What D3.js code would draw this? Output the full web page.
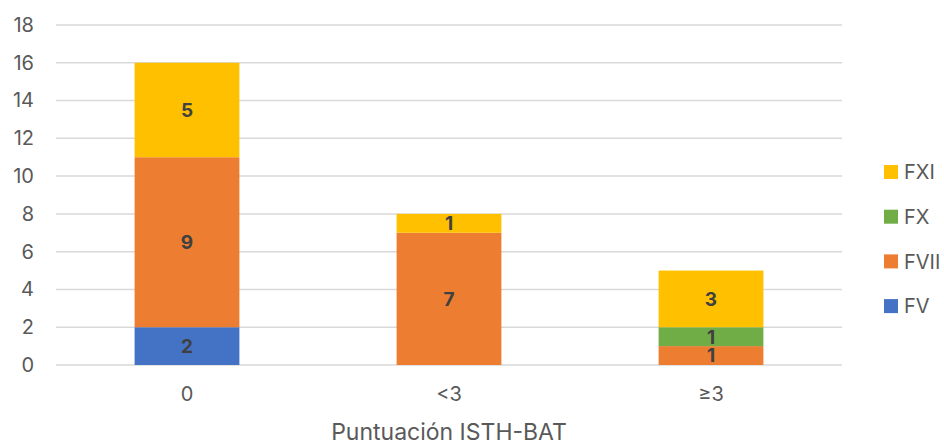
<!DOCTYPE html>
<html>
<head>
<meta charset="utf-8">
<script src="https://cdn.jsdelivr.net/npm/d3@7"></script>
<style>
  html, body { margin: 0; padding: 0; background: #fff; }
  svg { display: block; font-family: Inter, "Noto Sans", sans-serif; }
</style>
</head>
<body>
<svg id="chart" width="944" height="445"></svg>
<script>
// Categories (ISTH-BAT score groups)
const categories = ["0", "<3", "\u22653"];
// Series in stacking order (bottom to top)
const seriesNames = ["FV", "FVII", "FX", "FXI"];
const FV   = [2, 0, 0];
const FVII = [9, 7, 1];
const FX   = [0, 0, 1];
const FXI  = [5, 1, 3];
const yTicks = [0, 2, 4, 6, 8, 10, 12, 14, 16, 18];
const colors = { FV: "#4472C4", FVII: "#ED7D31", FX: "#70AD47", FXI: "#FFC000" };
const xTitle = "Puntuación ISTH-BAT";

const seriesValues = { FV, FVII, FX, FXI };
const rows = categories.map((c, i) => {
  const r = { category: c };
  seriesNames.forEach(s => r[s] = seriesValues[s][i]);
  return r;
});

const svg = d3.select("#chart");
const margin = { left: 56, right: 102, top: 25, bottom: 80 };
const width = 944, height = 445;

const x = d3.scaleBand()
  .domain(categories)
  .range([margin.left, width - margin.right])
  .paddingInner(0.6)
  .paddingOuter(0.3);

const y = d3.scaleLinear()
  .domain([0, 18])
  .range([height - margin.bottom, margin.top]);

// Horizontal gridlines
svg.append("g")
  .selectAll("line")
  .data(yTicks)
  .join("line")
  .attr("x1", margin.left)
  .attr("x2", width - margin.right)
  .attr("y1", d => y(d))
  .attr("y2", d => y(d))
  .attr("stroke", "#d9d9d9")
  .attr("stroke-width", 1.5);

// Y axis tick labels
const yAxis = d3.axisLeft(y).tickValues(yTicks).tickSize(0).tickPadding(0);
const gy = svg.append("g")
  .attr("transform", `translate(${margin.left - 22},0)`)
  .call(yAxis);
gy.select(".domain").remove();
gy.selectAll("text")
  .attr("fill", "#595959")
  .attr("font-size", 20)
  .attr("font-family", "Inter, 'Noto Sans', sans-serif");

// X axis labels
const xAxis = d3.axisBottom(x).tickSize(0).tickPadding(0);
const gx = svg.append("g")
  .attr("transform", `translate(0,${y(0) + 22})`)
  .call(xAxis);
gx.select(".domain").remove();
gx.selectAll("text")
  .attr("fill", "#595959")
  .attr("font-size", 20)
  .attr("font-family", "Inter, 'Noto Sans', sans-serif");

// Stacked bars
const stack = d3.stack().keys(seriesNames);
const layers = stack(rows);

const layerG = svg.append("g")
  .selectAll("g")
  .data(layers)
  .join("g")
  .attr("fill", d => colors[d.key]);

layerG.selectAll("rect")
  .data(d => d.map(p => ({ key: d.key, p })))
  .join("rect")
  .attr("x", d => x(d.p.data.category))
  .attr("width", x.bandwidth())
  .attr("y", d => y(d.p[1]))
  .attr("height", d => y(d.p[0]) - y(d.p[1]));

// Value labels
layerG.selectAll("text")
  .data(d => d.map(p => ({ key: d.key, p })).filter(e => e.p.data[e.key] > 0))
  .join("text")
  .attr("x", d => x(d.p.data.category) + x.bandwidth() / 2)
  .attr("y", d => (y(d.p[0]) + y(d.p[1])) / 2)
  .attr("dy", "0.36em")
  .attr("text-anchor", "middle")
  .attr("font-size", 19)
  .attr("font-weight", "bold")
  .attr("fill", "#404040")
  .text(d => d.p.data[d.key]);

// X axis title
svg.append("text")
  .attr("x", (margin.left + width - margin.right) / 2)
  .attr("y", 440)
  .attr("text-anchor", "middle")
  .attr("font-size", 23)
  .attr("fill", "#595959")
  .text(xTitle);

// Legend (top series first)
const legendItems = seriesNames.slice().reverse();
const legend = svg.append("g")
  .selectAll("g")
  .data(legendItems)
  .join("g")
  .attr("transform", (d, i) => `translate(884,${172 + i * 44.7})`);

legend.append("rect")
  .attr("x", 0)
  .attr("y", -7)
  .attr("width", 14)
  .attr("height", 14)
  .attr("fill", d => colors[d]);

legend.append("text")
  .attr("x", 20)
  .attr("y", 0)
  .attr("dy", "0.36em")
  .attr("font-size", 20)
  .attr("fill", "#595959")
  .text(d => d);
</script>
</body>
</html>
